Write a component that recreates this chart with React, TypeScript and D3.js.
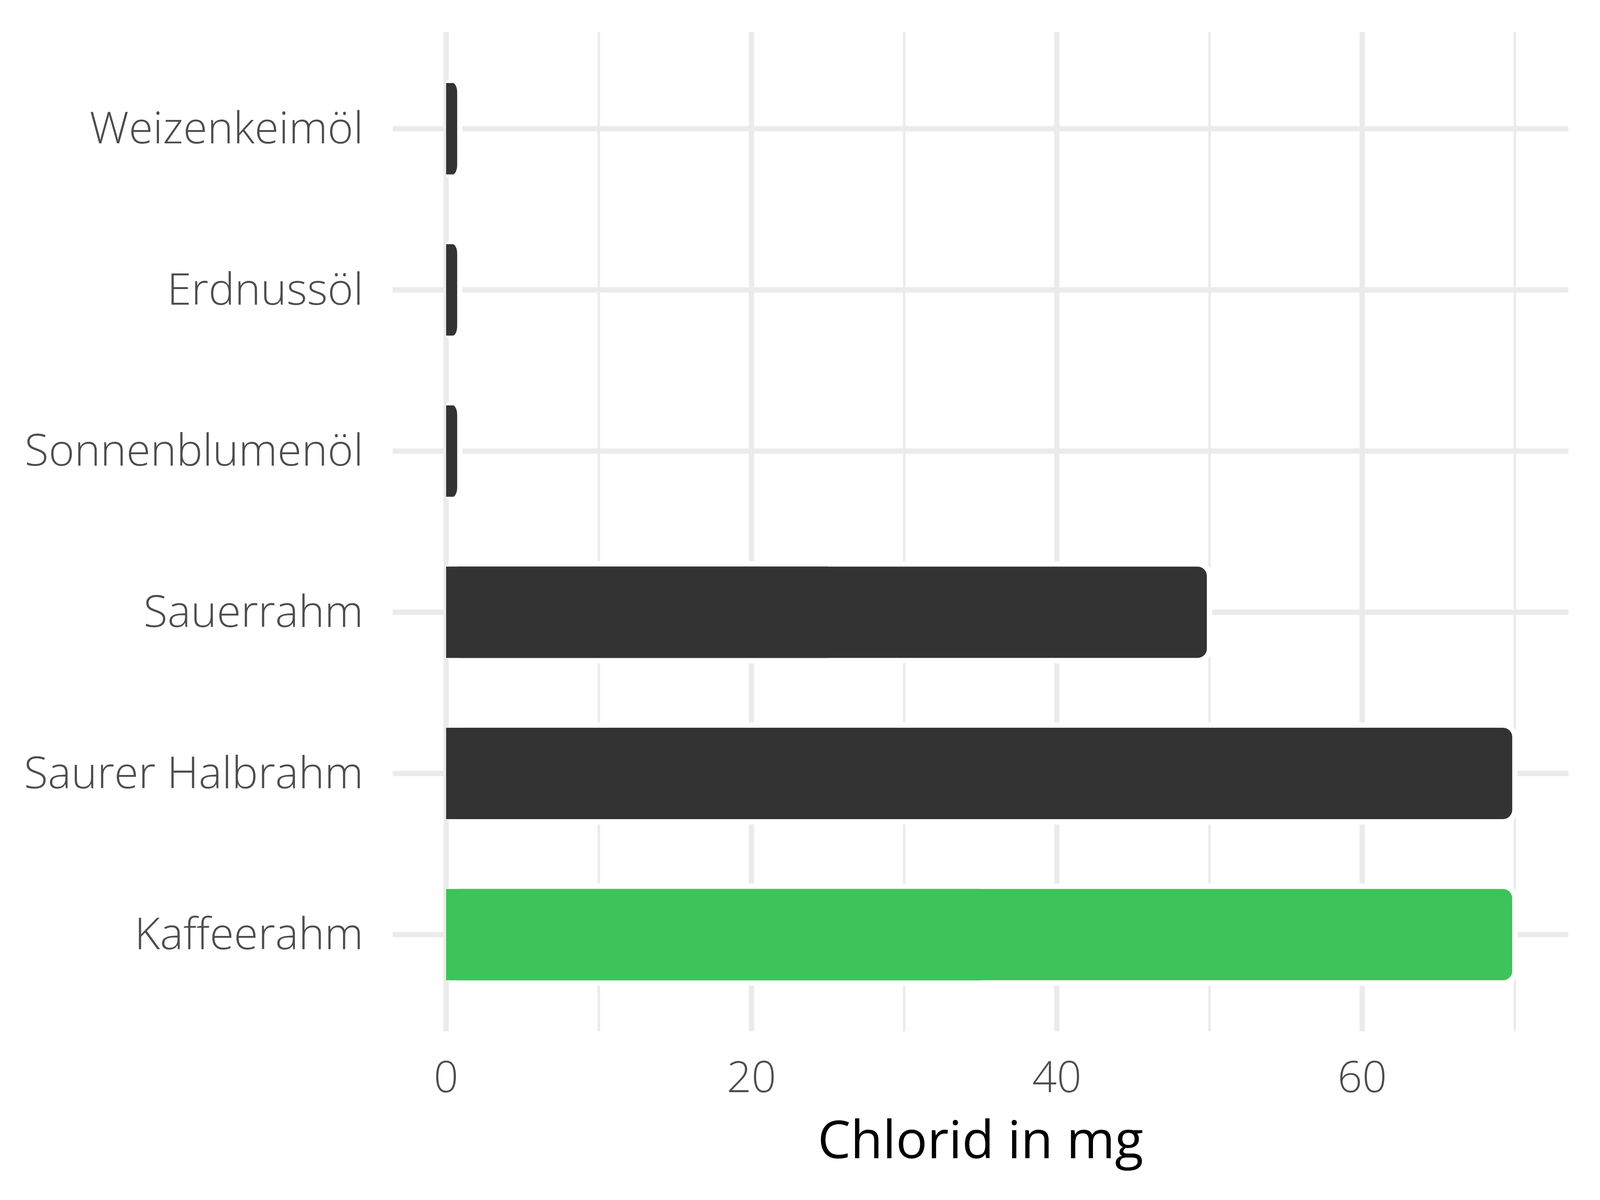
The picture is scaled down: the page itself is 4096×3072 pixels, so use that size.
import { useEffect, useRef } from 'react';
import * as d3 from 'd3';

// data, bottom to top as in the chart
const categories = ['Kaffeerahm', 'Saurer Halbrahm', 'Sauerrahm', 'Sonnenblumenöl', 'Erdnussöl', 'Weizenkeimöl'];
const values = [70, 70, 50, 0.9, 0.9, 0.9];
const highlighted = ['Kaffeerahm'];
const majorTicks = [0, 20, 40, 60];
const minorTicks = [10, 30, 50, 70];
const axisTitle = 'Chlorid in mg';

export default function App() {
  const svgRef = useRef<SVGSVGElement>(null);

  useEffect(() => {
    if (!svgRef.current) return;
    document.body.style.margin = '0';

    const s = 4096 / 4800;
    const width = 4096;
    const height = 3072;
    const panel = { left: 1178 * s, right: 4705 * s, top: 96 * s, bottom: 3094 * s };
    const font = '"Open Sans", "Noto Sans", sans-serif';
    const grid = '#EBEBEB';

    const svg = d3.select(svgRef.current)
      .attr('width', width)
      .attr('height', height);
    svg.selectAll('*').remove();

    const x = d3.scaleLinear()
      .domain([-3.5, 73.5])
      .range([panel.left, panel.right]);

    const y = d3.scalePoint<string>()
      .domain([...categories].reverse())
      .range([panel.top, panel.bottom])
      .padding(0.6);

    const step = y.step();
    const barH = step * 0.6;
    const majorW = 16 * s;
    const minorW = 7.5 * s;

    // grid
    svg.append('g')
      .selectAll('line')
      .data(minorTicks)
      .enter()
      .append('line')
      .attr('x1', d => x(d)).attr('x2', d => x(d))
      .attr('y1', panel.top).attr('y2', panel.bottom)
      .attr('stroke', grid).attr('stroke-width', minorW);

    svg.append('g')
      .selectAll('line')
      .data(majorTicks)
      .enter()
      .append('line')
      .attr('x1', d => x(d)).attr('x2', d => x(d))
      .attr('y1', panel.top).attr('y2', panel.bottom)
      .attr('stroke', grid).attr('stroke-width', majorW);

    svg.append('g')
      .selectAll('line')
      .data(categories)
      .enter()
      .append('line')
      .attr('x1', panel.left).attr('x2', panel.right)
      .attr('y1', d => y(d) as number).attr('y2', d => y(d) as number)
      .attr('stroke', grid).attr('stroke-width', majorW);

    // bars
    const bars = svg.append('g')
      .selectAll('g')
      .data(categories)
      .enter()
      .append('g');

    const color = (c: string) => (highlighted.includes(c) ? '#3DC35A' : '#333333');

    bars.append('rect')
      .attr('x', x(0))
      .attr('y', d => (y(d) as number) - barH / 2)
      .attr('width', (_, i) => x(values[i]) - x(0))
      .attr('height', barH)
      .attr('rx', 36 * s)
      .attr('fill', d => color(d))
      .attr('stroke', '#ffffff')
      .attr('stroke-width', 16 * s);

    bars.append('rect')
      .attr('x', x(0))
      .attr('y', d => (y(d) as number) - barH / 2 + 8 * s)
      .attr('width', (_, i) => (x(values[i]) - x(0)) / 2)
      .attr('height', barH - 16 * s)
      .attr('fill', d => color(d));

    // left half of the zero line shows beside the bars
    bars.append('rect')
      .attr('x', x(0) - majorW / 2)
      .attr('y', d => (y(d) as number) - barH / 2 + 8 * s)
      .attr('width', majorW / 2)
      .attr('height', barH - 16 * s)
      .attr('fill', grid);

    // y labels
    svg.append('g')
      .selectAll('text')
      .data(categories)
      .enter()
      .append('text')
      .attr('x', 1090 * s)
      .attr('y', d => (y(d) as number) + 44 * s)
      .attr('text-anchor', 'end')
      .style('font-family', font)
      .style('font-weight', 300)
      .style('font-size', `${132 * s}px`)
      .attr('fill', '#4D4D4D')
      .text(d => d);

    // x labels
    svg.append('g')
      .selectAll('text')
      .data(majorTicks)
      .enter()
      .append('text')
      .attr('x', d => x(d))
      .attr('y', 3276 * s)
      .attr('text-anchor', 'middle')
      .style('font-family', font)
      .style('font-weight', 300)
      .style('font-size', `${130 * s}px`)
      .attr('fill', '#4D4D4D')
      .text(d => d);

    // axis title
    svg.append('text')
      .attr('x', (panel.left + panel.right) / 2)
      .attr('y', 3475 * s)
      .attr('text-anchor', 'middle')
      .style('font-family', font)
      .style('font-weight', 400)
      .style('font-size', `${157 * s}px`)
      .attr('fill', '#000000')
      .text(axisTitle);
  }, []);

  return <svg ref={svgRef} style={{ display: 'block' }}></svg>;
}
